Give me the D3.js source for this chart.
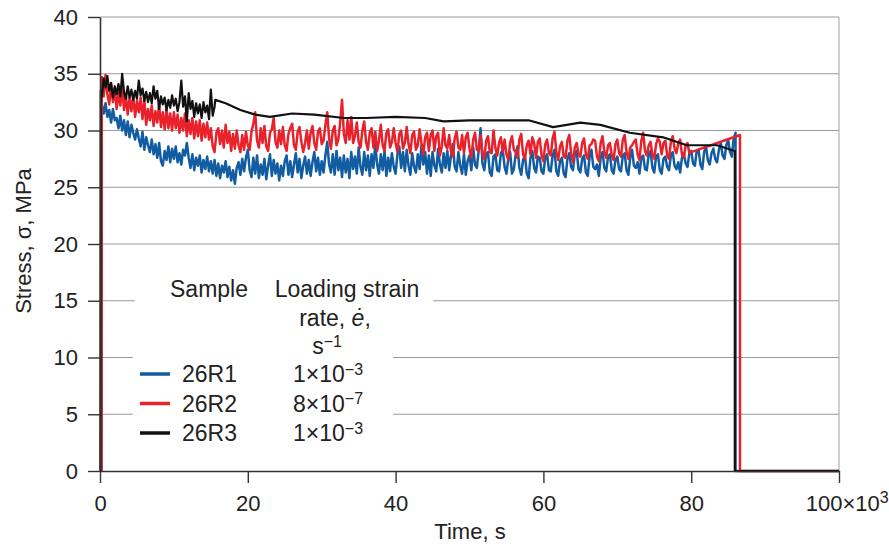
<!DOCTYPE html>
<html>
<head>
<meta charset="utf-8">
<script src="https://cdn.jsdelivr.net/npm/d3@7"></script>
<style>
  body { margin: 0; background: #fff; }
  svg { display: block; }
  text { font-family: "Liberation Sans", Arial, sans-serif; fill: #222; }
</style>
</head>
<body>
<div id="chart"></div>
<script>
var width = 889;
var height = 546;
var margin = {top: 17, right: 50, bottom: 75, left: 100};

// ---- data (time in 10^3 s, stress in MPa) ----
var yTicks = [0, 5, 10, 15, 20, 25, 30, 35, 40];
var xTicks = [0, 20, 40, 60, 80, 100];
var xTickLabels = ["0", "20", "40", "60", "80", "100×10"];

// 26R1 : read every 0.25 ks from 0.25 ks to 86 ks
var blueStart = 0.25, blueStep = 0.25;
var blueStress = [
  32.3, 31.5, 32.4, 31.2, 31.8, 30.7, 31.9, 30.9, 31.1, 30.2, 31.3, 30.0, 30.9, 29.6, 30.8, 29.4, 30.5, 29.8, 29.2, 30.1,
  29.3, 28.6, 29.9, 28.3, 29.4, 28.7, 28.1, 29.2, 27.9, 28.8, 27.6, 28.9, 27.3, 26.9, 28.2, 27.4, 28.6, 27.2, 28.4, 27.5,
  28.6, 27.2, 28.0, 27.0, 28.3, 27.8, 28.9, 27.6, 26.7, 27.9, 26.5, 27.6, 26.9, 27.8, 26.3, 27.4, 26.6, 27.7, 26.4, 27.3,
  26.2, 27.4, 26.0, 27.1, 25.8, 26.9, 26.3, 27.3, 25.9, 26.8, 25.6, 26.5, 25.3, 26.7, 27.2, 26.1, 27.5, 26.4, 27.6, 28.3,
  26.5, 25.9, 27.6, 26.2, 27.8, 25.8, 27.0, 26.1, 27.5, 25.7, 26.9, 27.9, 26.0, 27.4, 26.2, 27.1, 25.6, 26.9, 26.0, 27.3,
  27.8, 26.1, 27.3, 25.9, 27.0, 28.0, 26.3, 27.5, 25.8, 26.9, 27.7, 26.2, 27.4, 26.0, 27.2, 28.1, 26.4, 27.6, 26.1, 27.3,
  26.3, 27.8, 29.0, 27.0, 26.3, 27.9, 26.1, 28.2, 26.5, 27.6, 25.9, 27.8, 26.3, 27.5, 25.8, 28.1, 26.6, 27.7, 26.2, 28.5,
  26.8, 26.1, 28.1, 26.5, 27.8, 26.0, 27.9, 26.7, 28.8, 27.0, 26.2, 27.9, 26.5, 28.2, 26.0, 27.6, 26.4, 28.0, 26.8, 26.2,
  27.9, 28.6, 26.7, 28.1, 26.4, 28.3, 26.9, 26.1, 28.0, 26.8, 26.3, 27.9, 26.6, 28.7, 27.0, 28.1, 26.2, 27.8, 26.0, 28.1,
  26.9, 26.4, 28.4, 27.0, 26.3, 28.0, 26.7, 28.2, 26.5, 27.8, 28.8, 26.8, 26.4, 28.1, 26.9, 26.2, 27.9, 26.1, 27.3, 27.8,
  26.5, 28.5, 27.0, 26.7, 28.3, 30.2, 27.1, 26.5, 27.9, 28.1, 26.3, 26.0, 27.7, 27.9, 26.5, 26.4, 28.0, 28.3, 26.8, 26.2,
  27.5, 28.1, 26.2, 26.6, 27.9, 28.6, 26.7, 26.1, 27.4, 27.8, 26.2, 25.8, 27.6, 28.2, 26.7, 26.3, 27.7, 27.6, 26.4, 26.2,
  27.6, 27.9, 26.5, 26.4, 27.8, 28.3, 26.4, 26.0, 27.3, 27.6, 26.2, 25.9, 27.5, 28.0, 26.8, 26.5, 27.9, 28.2, 26.6, 26.3,
  27.5, 27.8, 26.3, 26.0, 27.7, 28.3, 26.8, 26.6, 27.0, 26.0, 27.6, 28.1, 26.7, 26.4, 27.7, 27.9, 26.5, 26.2, 27.4, 27.7,
  26.6, 26.4, 27.8, 28.0, 26.5, 26.1, 27.6, 28.3, 26.9, 26.7, 27.2, 26.2, 27.6, 27.8, 26.6, 26.5, 27.9, 28.2, 26.7, 26.3,
  27.7, 27.9, 26.5, 26.2, 27.5, 27.7, 26.8, 26.5, 27.8, 28.1, 26.9, 26.6, 27.2, 26.3, 27.6, 28.0, 27.1, 26.8, 28.0, 28.2,
  27.1, 26.9, 28.2, 28.3, 27.0, 26.6, 28.1, 28.6, 27.4, 27.0, 28.0, 28.4, 27.5, 27.2, 28.3, 28.9, 27.8, 27.5, 28.7, 29.2,
  28.1, 27.7, 29.3, 29.8
];
var blueRise = [[0.2, 0], [0.22, 32.2]];
var blueFall = [[86.0, 0], [100, 0]];

// 26R2 : read every 0.25 ks from 0.25 ks to 80 ks
var redStart = 0.25, redStep = 0.25;
var redStress = [
  34.7, 33.0, 34.9, 33.2, 32.3, 34.1, 32.5, 33.7, 31.9, 33.3, 32.2, 33.9, 31.8, 33.1, 31.4, 32.9, 31.7, 33.0, 31.2, 32.6,
  31.6, 32.9, 31.0, 32.7, 30.5, 31.9, 30.9, 32.2, 30.4, 31.7, 30.7, 32.3, 30.3, 31.6, 30.1, 31.9, 30.2, 31.5, 30.0, 31.6,
  30.2, 31.4, 29.8, 31.1, 30.0, 31.5, 29.5, 30.9, 29.7, 31.1, 29.3, 30.8, 29.5, 30.9, 29.1, 30.6, 29.4, 30.7, 29.2, 30.2,
  28.6, 28.1, 29.8, 30.2, 28.8, 30.0, 28.5, 30.5, 28.9, 29.9, 28.2, 29.7, 28.4, 30.0, 28.7, 28.1, 29.6, 28.3, 29.9, 28.7,
  28.3, 29.9, 30.6, 31.6, 29.1, 28.5, 30.2, 28.9, 30.4, 28.6, 28.2, 29.8, 30.1, 31.1, 29.0, 28.5, 30.0, 28.8, 30.3, 28.7,
  28.2, 29.7, 30.2, 30.6, 28.7, 28.3, 29.9, 30.3, 29.0, 28.1, 28.9, 30.0, 28.4, 29.8, 30.4, 28.9, 28.3, 29.9, 30.2, 28.8,
  29.1, 30.5, 31.6, 29.3, 28.4, 30.0, 30.4, 28.7, 29.2, 30.7, 32.7, 29.7, 28.9, 30.9, 29.2, 31.2, 28.9, 29.5, 30.7, 29.0,
  28.5, 30.0, 30.8, 29.0, 28.3, 29.8, 30.2, 28.5, 29.9, 28.2, 29.1, 30.5, 28.7, 28.2, 29.8, 30.1, 28.5, 29.0, 30.2, 28.9,
  28.1, 29.7, 30.0, 28.4, 28.9, 30.3, 28.8, 28.0, 29.6, 29.9, 28.3, 28.7, 30.1, 28.9, 27.9, 29.4, 29.8, 28.2, 29.6, 30.0,
  28.2, 29.5, 29.8, 27.8, 28.6, 30.2, 28.7, 28.4, 29.6, 28.1, 27.7, 29.3, 29.9, 28.5, 28.3, 29.6, 28.0, 29.4, 29.8, 28.4,
  27.6, 29.2, 29.8, 28.3, 28.2, 29.6, 28.0, 27.5, 29.1, 29.5, 28.1, 28.0, 30.0, 28.5, 27.8, 28.9, 29.4, 28.1, 29.2, 27.9,
  27.4, 28.9, 29.5, 28.3, 28.1, 27.6, 29.2, 29.7, 27.9, 27.5, 28.7, 29.1, 27.9, 29.4, 28.9, 27.6, 29.0, 29.3, 27.8, 27.3,
  28.8, 29.2, 28.0, 27.8, 29.3, 29.9, 28.1, 27.4, 28.6, 29.0, 27.7, 27.6, 29.1, 29.6, 28.0, 27.2, 28.5, 28.9, 27.9, 27.7,
  28.9, 29.3, 27.9, 27.5, 28.7, 28.8, 29.2, 29.1, 27.7, 27.3, 28.9, 29.5, 28.1, 27.6, 28.7, 28.9, 27.8, 27.4, 28.8, 29.2,
  28.0, 27.7, 29.2, 29.6, 28.1, 27.5, 28.5, 28.7, 29.0, 29.2, 27.9, 27.4, 29.1, 29.8, 28.2, 27.8, 28.7, 29.0, 27.9, 27.5,
  28.8, 29.3, 29.0, 27.9, 28.9, 29.1, 27.8, 27.5, 29.0, 29.5, 28.4, 28.0, 28.9, 29.2, 27.9, 27.6, 28.7, 28.9, 28.0, 28.1
];
var redRise = [[0.2, 0], [0.24, 34.5]];
var redFall = [[86.6, 29.6], [86.6, 0], [100, 0]];

// 26R3 : noisy part every 0.25 ks, then sparse readings
var blackStart = 0.25, blackStep = 0.25;
var blackStress = [
  33.0, 34.6, 33.8, 34.8, 33.5, 34.2, 32.9, 33.9, 33.2, 34.1,
  33.0, 35.0, 33.4, 32.8, 33.9, 32.9, 33.6, 32.7, 33.5, 32.8,
  34.4, 33.1, 33.7, 32.6, 33.4, 32.5, 33.3, 32.4, 33.9, 32.8,
  33.5, 31.9, 33.0, 32.3, 32.9, 31.8, 32.7, 32.0, 33.1, 32.2,
  32.8, 31.7, 32.5, 34.4, 32.1, 33.0, 30.8, 33.3, 31.9, 32.6,
  31.2, 32.4, 31.5, 32.3, 31.1, 32.5, 31.6, 32.2, 31.0, 33.6,
  31.3, 32.1
];
var blackTime2 = [15.6, 17, 19, 21, 23, 26, 29, 33, 36, 40, 44, 46.5, 50, 58, 61.3, 65, 67.7, 71.7, 76.2, 79.4, 83.5, 85.9, 85.9, 100];
var blackStress2 = [32.7, 32.4, 31.8, 31.4, 31.2, 31.5, 31.4, 31.1, 31.1, 31.2, 31.1, 30.8, 30.9, 30.9, 30.3, 30.7, 30.5, 29.8, 29.4, 28.7, 28.7, 28.2, 0, 0];
var blackRise = [[0.05, 0], [0.1, 33.5]];

var seriesNames = ["26R1", "26R2", "26R3"];
var seriesRates = [["1×10", "−3"], ["8×10", "−7"], ["1×10", "−3"]];
var seriesColors = ["#125ca1", "#e8212b", "#111111"];

// ---- build point lists ----
function sampled(start, step, vals) {
  return vals.map(function(v, i) { return [start + i * step, v]; });
}
var bluePts = blueRise.concat(sampled(blueStart, blueStep, blueStress), blueFall);
var redPts = redRise.concat(sampled(redStart, redStep, redStress), redFall);
var blackPts = blackRise.concat(sampled(blackStart, blackStep, blackStress),
  blackTime2.map(function(t, i) { return [t, blackStress2[i]]; }));

var svg = d3.select("#chart")
    .append("svg")
    .attr("width", width)
    .attr("height", height);

var x = d3.scaleLinear().domain([0, 100]).range([margin.left, width - margin.right]);
var y = d3.scaleLinear().domain([0, 40]).range([height - margin.bottom, margin.top]);

// grid
svg.append("g")
  .selectAll("line")
  .data(yTicks.slice(1))
  .enter().append("line")
    .attr("x1", x(0)).attr("x2", x(100))
    .attr("y1", function(d) { return y(d); })
    .attr("y2", function(d) { return y(d); })
    .attr("stroke", "#9a9a9a")
    .attr("stroke-width", 1.2);

svg.append("line")
  .attr("x1", x(100)).attr("x2", x(100))
  .attr("y1", y(40)).attr("y2", y(0))
  .attr("stroke", "#b0b0b0")
  .attr("stroke-width", 1.2);

// legend background hides the grid
svg.append("rect").attr("x", 135).attr("y", 272).attr("width", 298).attr("height", 64).attr("fill", "#fff");
svg.append("rect").attr("x", 133).attr("y", 335).attr("width", 260).attr("height", 118).attr("fill", "#fff");

// series
var line = d3.line()
  .x(function(d) { return x(d[0]); })
  .y(function(d) { return y(d[1]); });

[bluePts, redPts, blackPts].forEach(function(pts, i) {
  svg.append("path")
    .datum(pts)
    .attr("fill", "none")
    .attr("stroke", seriesColors[i])
    .attr("stroke-width", i == 2 ? 2.2 : 2.5)
    .attr("stroke-linejoin", "round")
    .attr("d", line);
});

// axes
var yAxis = svg.append("g")
  .attr("transform", "translate(" + x(0) + ",0)")
  .call(d3.axisLeft(y).tickValues(yTicks).tickSize(12).tickSizeOuter(0).tickPadding(10));

var xAxis = svg.append("g")
  .attr("transform", "translate(0," + y(0) + ")")
  .call(d3.axisBottom(x).tickValues(xTicks).tickSize(12).tickSizeOuter(0).tickPadding(12)
    .tickFormat(function(d, i) { return xTickLabels[i]; }));

[yAxis, xAxis].forEach(function(a) {
  a.select(".domain").attr("stroke", "#333").attr("stroke-width", 1.6);
  a.selectAll(".tick line").attr("stroke", "#333").attr("stroke-width", 1.4);
  a.selectAll(".tick text")
    .style("font-family", "'Liberation Sans', Arial, sans-serif")
    .style("font-size", "22px")
    .attr("fill", "#222");
});

xAxis.selectAll(".tick text")
  .filter(function(d) { return d === 100; })
  .attr("dx", "0.35em")
  .append("tspan")
    .attr("dy", "-0.5em")
    .style("font-size", "16px")
    .text("3");

// axis titles
svg.append("text")
  .attr("x", 470)
  .attr("y", 539)
  .attr("text-anchor", "middle")
  .style("font-size", "22px")
  .text("Time, s");

svg.append("text")
  .attr("transform", "translate(31,241) rotate(-90)")
  .attr("text-anchor", "middle")
  .style("font-size", "22px")
  .text("Stress, σ, MPa");

// legend
var lg = svg.append("g").style("font-size", "23px");
lg.append("text").attr("x", 209).attr("y", 297).attr("text-anchor", "middle").text("Sample");
lg.append("text").attr("x", 347).attr("y", 297).attr("text-anchor", "middle").text("Loading strain");
var rl = lg.append("text").attr("x", 335).attr("y", 326).attr("text-anchor", "middle");
rl.append("tspan").text("rate, ");
rl.append("tspan").style("font-style", "italic").text("ė");
rl.append("tspan").text(",");
var sl = lg.append("text").attr("x", 327).attr("y", 354).attr("text-anchor", "middle");
sl.append("tspan").text("s");
sl.append("tspan").attr("dy", "-0.45em").style("font-size", "16px").text("−1");

seriesNames.forEach(function(name, i) {
  var yy = 382 + i * 29.5;
  lg.append("line")
    .attr("x1", 140).attr("x2", 170)
    .attr("y1", yy - 8).attr("y2", yy - 8)
    .attr("stroke", seriesColors[i])
    .attr("stroke-width", 3.5);
  lg.append("text").attr("x", 182).attr("y", yy).text(name);
  var rt = lg.append("text").attr("x", 293).attr("y", yy);
  rt.append("tspan").text(seriesRates[i][0]);
  rt.append("tspan").attr("dy", "-0.45em").style("font-size", "16px").text(seriesRates[i][1]);
});
</script>
</body>
</html>
